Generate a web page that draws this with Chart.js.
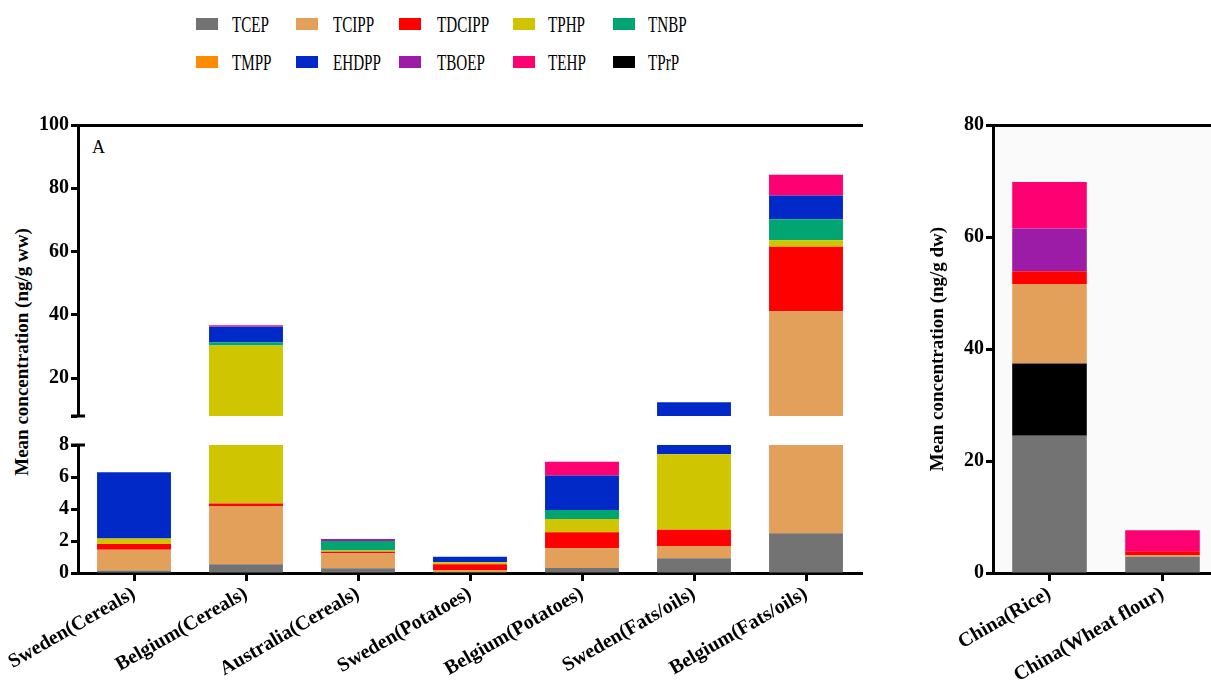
<!DOCTYPE html>
<html>
<head>
<meta charset="utf-8">
<script src="https://cdn.jsdelivr.net/npm/chart.js@4.4.0/dist/chart.umd.min.js"></script>
<style>
  body { margin: 0; width: 1211px; height: 680px; overflow: hidden; background: #fff; position: relative;
         font-family: "Liberation Serif", "Times New Roman", serif; }
  canvas { position: absolute; }
  .sw { position: absolute; width: 22px; height: 12px; }
  .lt { position: absolute; font-size: 24px; line-height: 24px; transform: scaleX(0.63); transform-origin: left center; }
  .ytitle { position: absolute; white-space: nowrap; font-weight: bold; font-size: 19px;
            transform: translate(-50%, -50%) rotate(-90deg); }
  .panel { position: absolute; font-size: 18px; }
</style>
</head>
<body>
<div id="legend"></div>
<div class="ytitle" style="left:22px; top:352px;">Mean concentration (ng/g ww)</div>
<div class="panel" style="left:92px; top:137px;">A</div>
<div class="panel" style="left:1008px; top:137px;">B</div>
<canvas id="upperA" width="870" height="320" style="left:0; top:110px;"></canvas>
<canvas id="lowerA" width="870" height="250" style="left:0; top:430px;"></canvas>
<canvas id="chartB" width="305" height="570" style="left:927px; top:110px;"></canvas>
<script>
// sloučeniny a barvy
const compounds = ["TCEP", "TCIPP", "TDCIPP", "TPHP", "TNBP", "TMPP", "EHDPP", "TBOEP", "TEHP", "TPrP"];
const colours = ["#737373", "#e3a05a", "#ff0000", "#cfc500", "#00a572", "#ff8c00", "#0029c8", "#9c1ca8", "#ff0073", "#000000"];

// panel A (ng/g ww)
const foodsA = ["Sweden(Cereals)", "Belgium(Cereals)", "Australia(Cereals)", "Sweden(Potatoes)",
                "Belgium(Potatoes)", "Sweden(Fats/oils)", "Belgium(Fats/oils)"];
const TCEP_A   = [0.15, 0.54, 0.29, 0.05, 0.31, 0.92, 2.48];
const TCIPP_A  = [1.30, 3.65, 0.94, 0.14, 1.23, 0.77, 38.6];
const TDCIPP_A = [0.37, 0.16, 0.10, 0.35, 1.00, 1.02, 20.4];
const TPHP_A   = [0.33, 25.9, 0.07, 0.13, 0.83, 4.71, 2.1];
const TNBP_A   = [0, 1.05, 0.60, 0, 0.57, 0, 6.6];
const TMPP_A   = [0, 0, 0, 0, 0, 0, 0];
const EHDPP_A  = [4.15, 4.9, 0, 0.35, 2.16, 4.9, 7.5];
const TBOEP_A  = [0, 0.2, 0.12, 0, 0, 0, 0];
const TEHP_A   = [0, 0.3, 0, 0, 0.86, 0, 6.6];
const TPrP_A   = [0, 0, 0, 0, 0, 0, 0];

// panel B (ng/g dw)
const foodsB = ["China(Rice)", "China(Wheat flour)"];
const TCEP_B   = [24.5, 2.9];
const TPrP_B   = [12.9, 0];
const TCIPP_B  = [14.2, 0.3];
const TDCIPP_B = [2.3, 0.7];
const TBOEP_B  = [7.6, 0];
const TEHP_B   = [8.3, 3.75];

// popisky os
const ticksUpperA = [8, 20, 40, 60, 80, 100];
const ticksLowerA = [0, 2, 4, 6, 8];
const ticksB = [0, 20, 40, 60, 80];

const seriesA = { TCEP: TCEP_A, TCIPP: TCIPP_A, TDCIPP: TDCIPP_A, TPHP: TPHP_A, TNBP: TNBP_A,
                  TMPP: TMPP_A, EHDPP: EHDPP_A, TBOEP: TBOEP_A, TEHP: TEHP_A, TPrP: TPrP_A };
const seriesB = { TCEP: TCEP_B, TPrP: TPrP_B, TCIPP: TCIPP_B, TDCIPP: TDCIPP_B, TBOEP: TBOEP_B, TEHP: TEHP_B };
const orderA = ["TCEP", "TCIPP", "TDCIPP", "TPHP", "TNBP", "TMPP", "EHDPP", "TBOEP", "TEHP", "TPrP"];
const orderB = ["TCEP", "TPrP", "TCIPP", "TDCIPP", "TBOEP", "TEHP"];

// legenda
const legX = [[196, 232], [296, 333], [399, 437], [513, 548], [613, 648]];
const legY = [24, 62];
const legend = document.getElementById("legend");
compounds.forEach((name, i) => {
  const col = legX[i % 5], y = legY[Math.floor(i / 5)];
  legend.insertAdjacentHTML("beforeend",
    `<div class="sw" style="left:${col[0]}px; top:${y - 6}px; background:${colours[i]}"></div>` +
    `<div class="lt" style="left:${col[1]}px; top:${y - 12}px;">${name}</div>`);
});

Chart.defaults.font.family = "'Liberation Serif', 'Times New Roman', serif";
Chart.defaults.color = "#000";
Chart.defaults.animation = false;
Chart.defaults.plugins.legend.display = false;
Chart.defaults.plugins.tooltip.enabled = false;

function makeDatasets(order, series) {
  return order.map(name => ({
    label: name,
    data: series[name],
    backgroundColor: colours[compounds.indexOf(name)],
    borderWidth: 0,
    barPercentage: 0.66,
    categoryPercentage: 1
  }));
}

function yScale(min, max, tickValues, width, hideFirst, title) {
  return {
    stacked: true, min: min, max: max,
    afterBuildTicks: s => { s.ticks = tickValues.map(v => ({ value: v })); },
    afterFit: s => { s.width = width; },
    ticks: {
      font: { size: 20, weight: "bold" }, padding: 2,
      callback: v => (hideFirst && v === tickValues[0]) ? "" : v
    },
    grid: { drawOnChartArea: false, tickLength: 7, tickWidth: 3, tickColor: "#000" },
    border: { color: "#000", width: 3 },
    title: title ? { display: true, text: title, font: { size: 19, weight: "bold" }, padding: { top: 0, bottom: 4 } } : { display: false }
  };
}

function xScaleLabels(height) {
  return {
    stacked: true,
    afterFit: s => { s.height = height; },
    ticks: { font: { size: 20, weight: "bold" }, minRotation: 30, maxRotation: 30, autoSkip: false, padding: 1 },
    grid: { offset: false, drawOnChartArea: false, tickLength: 8, tickWidth: 3, tickColor: "#000" },
    border: { color: "#000", width: 3 }
  };
}

// značka přerušení osy (krátká příčka přes osu y)
function axisBreak(value) {
  return {
    id: "axisBreak",
    afterDraw(chart) {
      const y = chart.scales.y, ctx = chart.ctx;
      const py = y.getPixelForValue(value);
      ctx.save();
      ctx.strokeStyle = "#000";
      ctx.lineWidth = 3;
      ctx.beginPath();
      ctx.moveTo(y.right - 7, py);
      ctx.lineTo(y.right + 7, py);
      ctx.stroke();
      ctx.restore();
    }
  };
}

// horní část panelu A (8–100)
new Chart(document.getElementById("upperA"), {
  type: "bar",
  data: { labels: foodsA, datasets: makeDatasets(orderA, seriesA) },
  plugins: [axisBreak(ticksUpperA[0])],
  options: {
    responsive: false,
    layout: { padding: { top: 15, right: 8, bottom: 6, left: 0 } },
    scales: {
      x: {
        stacked: true, position: "top",
        afterFit: s => { s.height = 0; },
        ticks: { display: false }, grid: { display: false },
        border: { color: "#000", width: 3 }
      },
      y: yScale(8, 100, ticksUpperA, 78, true)
    }
  }
});

// dolní část panelu A (0–8)
new Chart(document.getElementById("lowerA"), {
  type: "bar",
  data: { labels: foodsA, datasets: makeDatasets(orderA, seriesA) },
  plugins: [axisBreak(ticksLowerA[ticksLowerA.length - 1])],
  options: {
    responsive: false,
    layout: { padding: { top: 15, right: 8, bottom: 0, left: 0 } },
    scales: {
      x: xScaleLabels(107),
      y: yScale(0, 8, ticksLowerA, 78, false)
    }
  }
});

// panel B
const plotBackground = {
  id: "plotBackground",
  beforeDraw(chart) {
    const { ctx, chartArea: a } = chart;
    ctx.save();
    ctx.fillStyle = "#fafafa";
    ctx.fillRect(a.left, a.top, a.right - a.left, a.bottom - a.top);
    ctx.restore();
  }
};

new Chart(document.getElementById("chartB"), {
  type: "bar",
  data: { labels: foodsB, datasets: makeDatasets(orderB, seriesB) },
  plugins: [plotBackground],
  options: {
    responsive: false,
    layout: { padding: { top: 15, right: 13, bottom: 0, left: 0 } },
    scales: {
      x: xScaleLabels(107),
      x2: {
        position: "top", type: "linear", min: 0, max: 1,
        afterFit: s => { s.height = 0; },
        ticks: { display: false }, grid: { display: false },
        border: { color: "#000", width: 3 }
      },
      y: yScale(0, 80, ticksB, 66, false, "Mean concentration (ng/g dw)")
    }
  }
});
</script>
</body>
</html>
